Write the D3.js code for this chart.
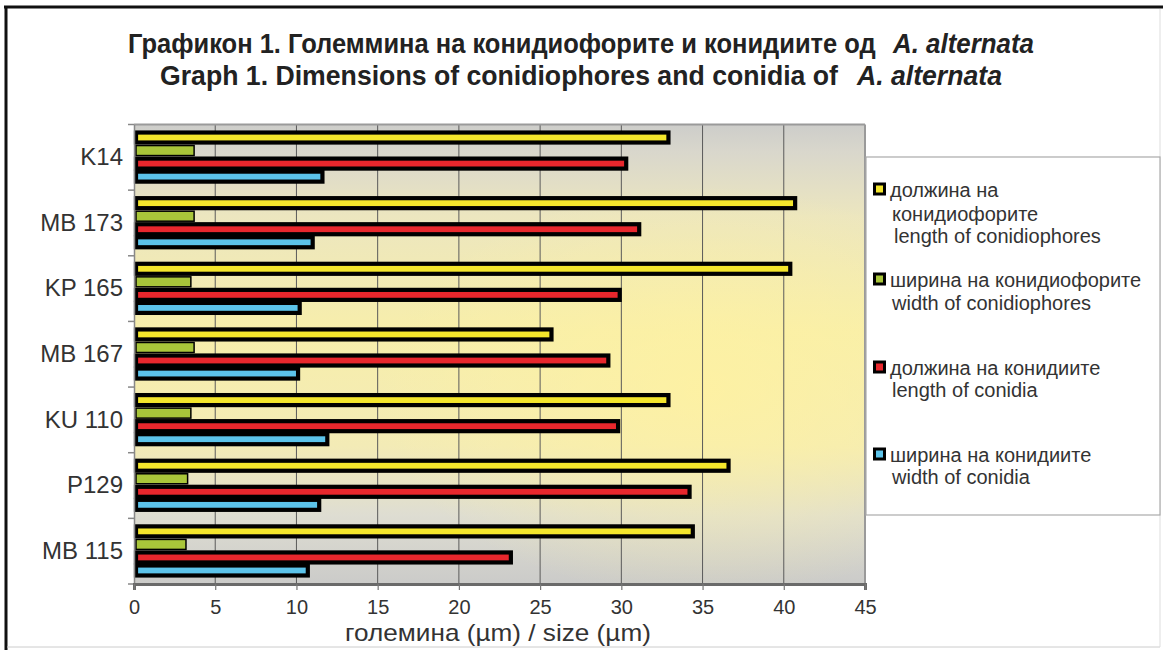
<!DOCTYPE html>
<html><head><meta charset="utf-8">
<script src="https://cdn.jsdelivr.net/npm/d3@7"></script>
<style>
html,body{margin:0;padding:0;background:#fff;}
svg{display:block;}
</style></head>
<body>
<svg id="chart" width="1163" height="650"></svg>
<script>
// ---- data ----
const categories = ["K14", "MB 173", "KP 165", "MB 167", "KU 110", "P129", "MB 115"];
const seriesNames = ["lenConidiophores", "widConidiophores", "lenConidia", "widConidia"];
const lenConidiophores = [32.9, 40.7, 40.4, 25.7, 32.9, 36.6, 34.4];
const widConidiophores = [3.7, 3.7, 3.5, 3.7, 3.5, 3.3, 3.2];
const lenConidia      = [30.3, 31.1, 29.9, 29.2, 29.8, 34.2, 23.2];
const widConidia      = [11.6, 11.0, 10.2, 10.1, 11.9, 11.4, 10.7];
const xTicks = [0, 5, 10, 15, 20, 25, 30, 35, 40, 45];
const legendLabels = [
  ["должина на", "конидиофорите", "length of conidiophores"],
  ["ширина на конидиофорите", "width of conidiophores"],
  ["должина на конидиите", "length of conidia"],
  ["ширина на конидиите", "width of conidia"]
];
const colors = ["#f4e62c", "#a9c63a", "#e8272d", "#5cc3ea"];
const seriesValues = [lenConidiophores, widConidiophores, lenConidia, widConidia];

const svg = d3.select("#chart");
const W = 1163, H = 650;
const plot = {x0: 134, x1: 865, y0: 124.5, y1: 584};

// frame
svg.append("line").attr("x1", 4).attr("x2", W).attr("y1", 7).attr("y2", 7).attr("stroke", "#111").attr("stroke-width", 3);
svg.append("line").attr("x1", 6).attr("x2", 6).attr("y1", 6).attr("y2", H).attr("stroke", "#111").attr("stroke-width", 3);
svg.append("line").attr("x1", 7).attr("x2", 1160).attr("y1", 647).attr("y2", 647).attr("stroke", "#ccc").attr("stroke-width", 1);
svg.append("line").attr("x1", 1160).attr("x2", 1160).attr("y1", 9).attr("y2", 647).attr("stroke", "#ddd").attr("stroke-width", 1);

// helper: draw text then squeeze horizontally to a target width
const tf = "'Liberation Sans Narrow','Arial Narrow','Liberation Sans',Arial,sans-serif";
function fitText(sel, x, y, w, anchor) {
  const L = sel.node().getComputedTextLength();
  const k = L > 0 ? w / L : 1;
  let dx = x;
  if (anchor === "middle") dx = x;
  sel.attr("x", 0).attr("y", 0).attr("text-anchor", anchor || "start")
    .attr("transform", `translate(${dx},${y}) scale(${k},1)`);
}

// title (regular part and italic part as separate texts)
const titleParts = [
  {t: "Графикон 1. Големмина на конидиофорите и конидиите од", x: 128, w: 748, y: 53, it: false},
  {t: "A. alternata", x: 893, w: 141, y: 53, it: true},
  {t: "Graph 1. Dimensions of conidiophores and conidia of", x: 160, w: 678, y: 85, it: false},
  {t: "A. alternata", x: 857, w: 145, y: 85, it: true}
];
titleParts.forEach(d => {
  const t = svg.append("text")
    .attr("font-family", tf).attr("font-weight", "bold").attr("font-size", 28).attr("fill", "#222")
    .attr("font-style", d.it ? "italic" : "normal").text(d.t);
  fitText(t, d.x, d.y, d.w, "start");
});

// gradient background
const defs = svg.append("defs");
const lg = defs.append("linearGradient").attr("id", "bg").attr("x1", 0).attr("y1", 0).attr("x2", 0).attr("y2", 1);
[[0, "#cdcdca"], [0.06, "#d9d7cc"], [0.2, "#ece6bf"], [0.45, "#f7eeab"], [0.7, "#f3ebb6"], [0.85, "#deddd2"], [1, "#cbcbc9"]]
  .forEach(([o, c]) => lg.append("stop").attr("offset", o).attr("stop-color", c));
const rg = defs.append("radialGradient").attr("id", "glow").attr("cx", 0.78).attr("cy", 0.58).attr("r", 0.45);
rg.append("stop").attr("offset", 0).attr("stop-color", "#fff2a0").attr("stop-opacity", 0.8);
rg.append("stop").attr("offset", 1).attr("stop-color", "#fff2a0").attr("stop-opacity", 0);

svg.append("rect").attr("x", plot.x0).attr("y", plot.y0).attr("width", plot.x1 - plot.x0).attr("height", plot.y1 - plot.y0).attr("fill", "url(#bg)");
svg.append("rect").attr("x", plot.x0).attr("y", plot.y0).attr("width", plot.x1 - plot.x0).attr("height", plot.y1 - plot.y0).attr("fill", "url(#glow)");

// scales
const x = d3.scaleLinear().domain([0, 45]).range([plot.x0, plot.x1]);
const y0 = d3.scaleBand().domain(categories).range([plot.y0, plot.y1]).padding(0);
const bw = y0.bandwidth();
const y1 = d3.scaleBand().domain(seriesNames).range([6.5, bw - 7]).padding(0);

// grid
svg.append("g").selectAll("line").data(xTicks.filter(d => d > 0 && d < 45)).join("line")
  .attr("x1", d => x(d)).attr("x2", d => x(d)).attr("y1", plot.y0).attr("y2", plot.y1)
  .attr("stroke", "#5a5a5a").attr("stroke-width", 1);

// plot border top/right
svg.append("line").attr("x1", plot.x0).attr("x2", plot.x1).attr("y1", plot.y0).attr("y2", plot.y0).attr("stroke", "#9a9a9a").attr("stroke-width", 2);
svg.append("line").attr("x1", plot.x1).attr("x2", plot.x1).attr("y1", plot.y0).attr("y2", plot.y1).attr("stroke", "#9a9a9a").attr("stroke-width", 2);

// bars
const rows = categories.map((c, i) => ({cat: c, vals: seriesNames.map((s, j) => ({s, j, v: seriesValues[j][i]}))}));
const barH = 10;
const order = [1, 0, 2, 3];
order.forEach(j => {
  svg.append("g").selectAll("rect").data(rows).join("rect")
    .attr("x", x(0) + 2)
    .attr("y", d => y0(d.cat) + y1(seriesNames[j]) + (y1.bandwidth() - barH) / 2)
    .attr("width", d => x(d.vals[j].v) - x(0) - 2)
    .attr("height", barH)
    .attr("fill", colors[j])
    .attr("stroke", "#000")
    .attr("stroke-width", j === 1 ? 1.5 : 4.2);
});

// y axis
const yAxis = d3.axisLeft(y0).tickSize(0).tickPadding(11);
const gy = svg.append("g").attr("transform", `translate(${plot.x0},0)`).call(yAxis);
gy.select(".domain").attr("stroke", "#888").attr("stroke-width", 1.5);
gy.selectAll("text").attr("font-family", "'Liberation Sans',Arial,sans-serif").attr("font-size", 24).attr("fill", "#333");
// category boundary ticks
svg.append("g").selectAll("line").data(categories.concat(["__end"])).join("line")
  .attr("x1", plot.x0 - 6).attr("x2", plot.x0)
  .attr("y1", (d, i) => i < categories.length ? y0(d) : plot.y1)
  .attr("y2", (d, i) => i < categories.length ? y0(d) : plot.y1)
  .attr("stroke", "#888").attr("stroke-width", 1.5);

// x axis
const xAxis = d3.axisBottom(x).tickValues(xTicks).tickSize(6).tickPadding(10).tickFormat(d3.format("d"));
const gx = svg.append("g").attr("transform", `translate(0,${plot.y1})`).call(xAxis);
gx.select(".domain").attr("stroke", "#6a6a6a").attr("stroke-width", 3);
gx.selectAll(".tick line").attr("stroke", "#777").attr("stroke-width", 1.2);
gx.selectAll("text").attr("font-family", tf).attr("font-size", 20).attr("fill", "#333");

const at = svg.append("text").attr("font-family", tf).attr("font-size", 23).attr("fill", "#333")
  .text("големина  (µm) / size (µm)");
fitText(at, 498, 641, 306, "middle");

// legend
svg.append("rect").attr("x", 866).attr("y", 157).attr("width", 294).attr("height", 358)
  .attr("fill", "#fff").attr("stroke", "#aaa").attr("stroke-width", 1.2);
const legY = [190, 280, 368, 455];
const lineGap = [[0, 24, 46], [0, 23], [0, 22], [0, 22]];
legendLabels.forEach((lines, i) => {
  svg.append("rect").attr("x", 874.5).attr("y", legY[i] - 6).attr("width", 10).attr("height", 10)
    .attr("fill", colors[i]).attr("stroke", "#000").attr("stroke-width", 3);
  lines.forEach((ln, k) => {
    svg.append("text").attr("x", k === 0 ? 890 : (k === 1 ? 892 : 894)).attr("y", legY[i] + lineGap[i][k] + 7)
      .attr("font-family", "'Liberation Sans',Arial,sans-serif").attr("font-size", 20).attr("fill", "#333")
      .text(ln);
  });
});
</script>
</body></html>
